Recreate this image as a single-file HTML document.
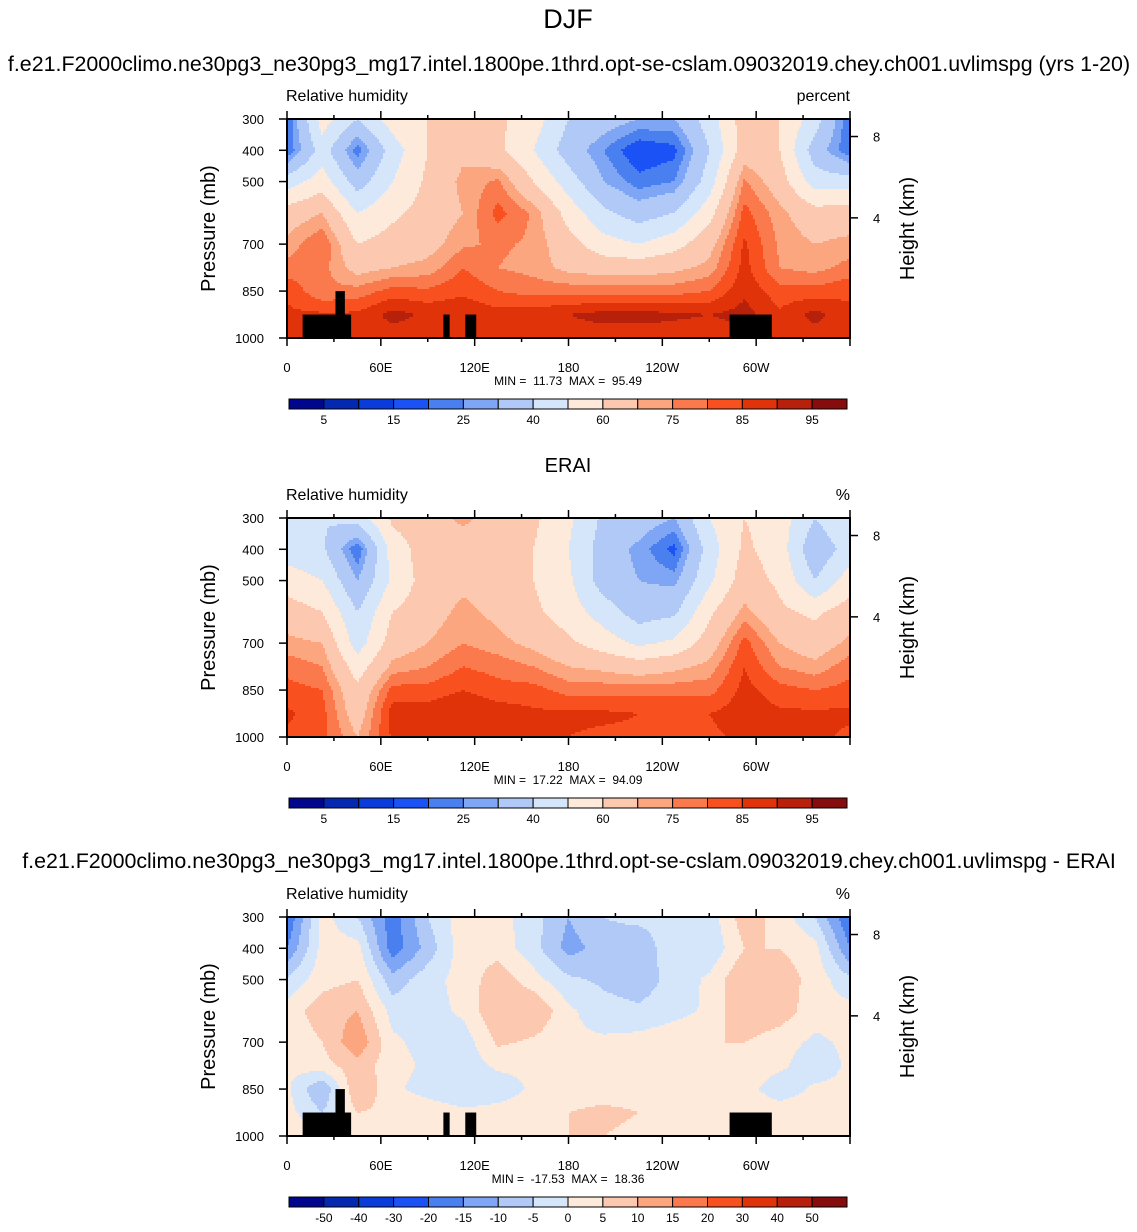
<!DOCTYPE html>
<html><head><meta charset="utf-8"><style>
body{margin:0;background:#fff;width:1137px;height:1227px;overflow:hidden;font-family:"Liberation Sans",Arial,sans-serif}
svg text{font-family:"Liberation Sans",Arial,sans-serif;white-space:pre}
</style></head><body>
<svg id="c" width="1137" height="1227" xmlns="http://www.w3.org/2000/svg">
<text x="568" y="28" font-size="27" text-anchor="middle">DJF</text>
<text x="569" y="71" font-size="21.4" text-anchor="middle">f.e21.F2000climo.ne30pg3_ne30pg3_mg17.intel.1800pe.1thrd.opt-se-cslam.09032019.chey.ch001.uvlimspg (yrs 1-20)</text>
<text x="568" y="472" font-size="20" text-anchor="middle">ERAI</text>
<text x="569" y="868" font-size="21.4" text-anchor="middle">f.e21.F2000climo.ne30pg3_ne30pg3_mg17.intel.1800pe.1thrd.opt-se-cslam.09032019.chey.ch001.uvlimspg - ERAI</text>
</svg>
<script>
const lons=[0,22.5,45,67.5,90,112.5,135,157.5,180,202.5,225,247.5,270,292.5,315,337.5,360];
const levs=[300,400,500,600,700,775,850,925,1000];
const rhLevels=[5,10,15,20,25,30,40,50,60,70,75,80,85,90,95];
const rhLabels=["5","15","25","40","60","75","85","95"];
const diffLevels=[-50,-40,-30,-20,-15,-10,-5,0,5,10,15,20,30,40,50];
const diffLabels=["-50","-40","-30","-20","-15","-10","-5","0","5","10","15","20","30","40","50"];
const colors=["#00078c","#0428b0","#0a3cdc","#1b52f6","#4a7ff0","#7fa6f5","#b1c9f7","#d6e6fa","#feeadb","#fdc8b0","#fca67f","#fa7a4d","#f8501e","#e0330a","#b7200b","#850d0d"];
const model=[
[20,55,40,55,60,65,62,55,40,35,30,30,45,65,60,45,20],
[20,45,22,45,60,68,62,50,35,25,15,18,40,65,60,35,20],
[45,55,35,50,62,72,76,60,45,30,22,25,45,76,65,45,45],
[65,70,50,58,64,70,82,74,56,42,35,40,56,82,72,64,65],
[72,80,60,64,67,74,76,74,64,54,50,56,67,86,74,70,72],
[77,77,67,70,72,80,75,73,68,66,66,68,72,87,75,73,77],
[84,76,77,82,81,84,80,78,78,78,78,78,80,89,82,82,84],
[86,86,86,92,89,89,87,88,90,92,92,91,90,92,86,92,86],
[86,86,87,87,87,87,87,87,87,87,87,87,87,87,87,87,86]];
const erai=[
[50,40,45,62,65,72,65,62,52,38,35,30,50,60,55,40,50],
[45,42,20,55,65,65,65,60,50,35,28,18,45,62,55,32,45],
[55,50,30,52,65,68,65,60,52,35,30,28,48,65,58,40,55],
[65,60,40,60,66,72,68,62,55,45,35,38,58,72,62,58,65],
[72,70,45,65,70,75,72,68,62,55,48,52,65,82,70,65,72],
[78,75,55,72,75,80,78,75,70,68,65,68,72,85,75,72,78],
[82,80,62,82,82,85,82,82,78,78,78,78,78,87,82,80,82],
[86,82,65,88,88,90,88,86,86,86,85,85,85,88,86,86,86],
[84,82,70,86,88,88,86,85,85,84,84,84,84,86,85,86,84]];
const diff=[
[-20,2,-5,-18,-5,3,2,-3,-10,-5,-3,-3,-3,8,3,-5,-20],
[-15,2,2,-18,-8,3,3,-3,-12,-8,-10,0,-4,5,5,2,-15],
[-4,3,5,-8,-2,2,8,2,-4,-6,-8,-3,1,10,8,3,-4],
[2,8,10,-2,-2,1,10,10,1,-3,-4,-2,1,10,8,2,2],
[1,5,14,1,-2,-3,6,4,1,1,2,4,5,5,2,-1,1],
[1,3,8,2,-1,-3,1,1,1,1,3,3,3,3,1,-3,1],
[1,-10,10,1,-2,-4,-3,1,1,1,1,1,1,2,-3,1,1],
[2,-5,5,4,3,1,2,3,5,7,5,3,5,3,3,3,2],
[3,3,5,3,3,3,3,3,5,5,3,3,3,3,3,3,3]];
const topo=[[10,41,925],[31,37,850],[100,104,925],[114,121,925],[283,310,925]];
const xTicks=[0,60,120,180,240,300];
const xTickLabels=["0","60E","120E","180","120W","60W"];
const pTicks=[300,400,500,700,850,1000];
const hTicks=[8,4];
const hTickP=[356,616];
const stats=[["11.73","95.49"],["17.22","94.09"],["-17.53","18.36"]];

const NS='http://www.w3.org/2000/svg';
const svg=document.getElementById('c');
const L=287,R=850,H=219;
function xs(lon){return L+lon/360*(R-L);}
function mk(tag,at,parent){const e=document.createElementNS(NS,tag);for(const k in at)e.setAttribute(k,at[k]);(parent||svg).appendChild(e);return e;}
function sample(g,lon,p){
  let i=Math.max(0,Math.min(15,Math.floor(lon/22.5)));let fx=(lon-lons[i])/22.5;
  let j=0;while(j<7&&p>levs[j+1])j++;let fy=(p-levs[j])/(levs[j+1]-levs[j]);
  const a=g[j][i]*(1-fx)+g[j][i+1]*fx,b=g[j+1][i]*(1-fx)+g[j+1][i+1]*fx;
  return a*(1-fy)+b*fy;}
function cls(v,lv){let k=0;while(k<lv.length&&v>=lv[k])k++;return k;}

function panel(T,g,lv,labs,st,unit,pi){
  const grp=mk('g',{});
  
  
  const ys=p=>T+(p-300)/700*H;
  const step=2;
  for(let y=T;y<T+H;y+=step){
    const p=Math.min(1000,300+(y+step/2-T)/H*700);
    let runStart=L,runC=-1;
    for(let x=L;;x+=step){
      const end=x>=R;
      let c=-2;
      if(!end){const lon=Math.min(359.9,(x+step/2-L)/(R-L)*360);c=cls(sample(g,lon,p),lv);}
      if(c!==runC){
        if(runC>=0){const xe=Math.min(x,R);const r=mk('rect',{x:runStart,y:y,width:xe-runStart+(end?0:0.6),height:Math.min(step+0.6,T+H-y),fill:colors[runC]},grp);
          
          }
        runStart=x;runC=c;}
      if(end)break;
    }
  }
  if(pi!==2){for(const t of topo){const r=mk('rect',{x:xs(t[0]),y:ys(t[2]),width:xs(t[1])-xs(t[0]),height:T+H-ys(t[2]),fill:'#000'},grp);
    
    }}
  const fr=mk('rect',{x:L,y:T,width:R-L,height:H,fill:'none',stroke:'#000','stroke-width':2},grp);
  
  
  for(let lon=0;lon<=360;lon+=30){const x=xs(lon),maj=lon%60===0;
    mk('line',{x1:x,x2:x,y1:T+H,y2:T+H+(maj?8:4),stroke:'#000','stroke-width':1.5},grp);
    mk('line',{x1:x,x2:x,y1:T,y2:T-(maj?8:4),stroke:'#000','stroke-width':1.5},grp);}
  xTicks.forEach((lon,k)=>{const t=mk('text',{x:xs(lon),y:T+H+34,'font-size':13,'text-anchor':'middle'},grp);t.textContent=xTickLabels[k];
    
    });
  pTicks.forEach(p=>{const y=ys(p);mk('line',{x1:L-8,x2:L,y1:y,y2:y,stroke:'#000','stroke-width':1.5},grp);
    const t=mk('text',{x:264,y:y+5,'font-size':13,'text-anchor':'end'},grp);t.textContent=p;
    
    });
  hTicks.forEach((h,k)=>{const y=ys(hTickP[k]);mk('line',{x1:R,x2:R+8,y1:y,y2:y,stroke:'#000','stroke-width':1.5},grp);
    const t=mk('text',{x:873,y:y+5,'font-size':13},grp);t.textContent=h;
    
    });
  let t=mk('text',{x:0,y:0,'font-size':20,'text-anchor':'middle',transform:`translate(215,${T+H/2}) rotate(-90)`},grp);t.textContent='Pressure (mb)';
  
  t=mk('text',{x:0,y:0,'font-size':20,'text-anchor':'middle',transform:`translate(914,${T+H/2}) rotate(-90)`},grp);t.textContent='Height (km)';
  
  t=mk('text',{x:286,y:T-18,'font-size':16},grp);t.textContent='Relative humidity';
  
  t=mk('text',{x:850,y:T-18,'font-size':16,'text-anchor':'end'},grp);t.textContent=unit;
  
  t=mk('text',{x:568,y:T+H+47,'font-size':12,'text-anchor':'middle'},grp);t.textContent='MIN =  '+st[0]+'  MAX =  '+st[1];
  
  const cy=T+280,cx0=289,cw=(847-289)/16;
  colors.forEach((c,k)=>{const r=mk('rect',{x:cx0+k*cw,y:cy,width:cw,height:10,fill:c,stroke:'#000','stroke-width':1},grp);
    });
  labs.forEach((lb,k)=>{const bi=labs.length===8?1+2*k:1+k;
    const tt=mk('text',{x:cx0+bi*cw,y:cy+25,'font-size':12,'text-anchor':'middle'},grp);tt.textContent=lb;
    });
}
panel(119,model,rhLevels,rhLabels,stats[0],'percent',1);
panel(518,erai,rhLevels,rhLabels,stats[1],'%',2);
panel(917,diff,diffLevels,diffLabels,stats[2],'%',3);
</script>
</body></html>
